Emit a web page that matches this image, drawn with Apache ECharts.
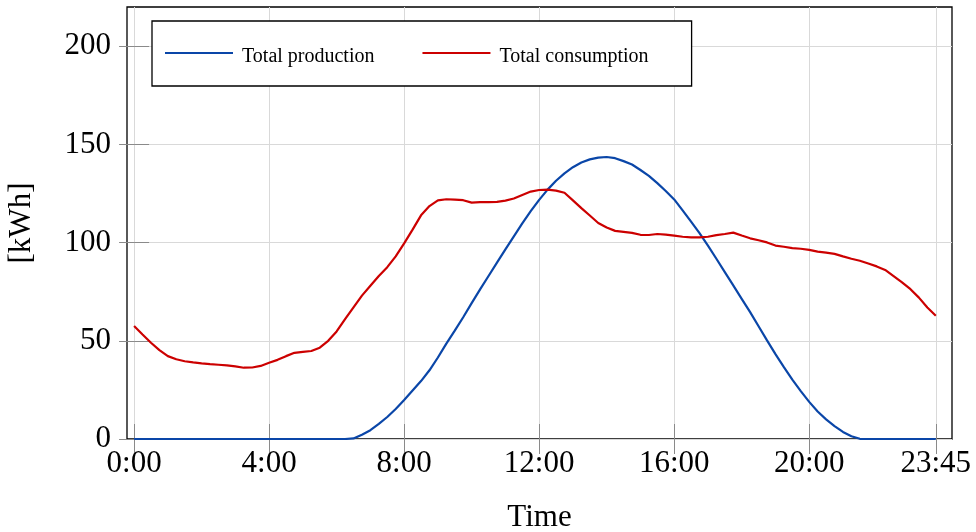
<!DOCTYPE html>
<html>
<head>
	<meta charset="utf-8" />
	<title>Production and consumption</title>
	<script src="https://cdn.jsdelivr.net/npm/echarts@6/dist/echarts.min.js"></script>
	<style>
		html, body { margin: 0; padding: 0; background: #fff; }
		#chart { width: 976px; height: 532px; }
	</style>
</head>
<body>
	<div id="chart"></div>
	<script type="text/javascript">
		var times = [
			'0:00', '0:15', '0:30', '0:45', '1:00', '1:15', '1:30', '1:45',
			'2:00', '2:15', '2:30', '2:45', '3:00', '3:15', '3:30', '3:45',
			'4:00', '4:15', '4:30', '4:45', '5:00', '5:15', '5:30', '5:45',
			'6:00', '6:15', '6:30', '6:45', '7:00', '7:15', '7:30', '7:45',
			'8:00', '8:15', '8:30', '8:45', '9:00', '9:15', '9:30', '9:45',
			'10:00', '10:15', '10:30', '10:45', '11:00', '11:15', '11:30', '11:45',
			'12:00', '12:15', '12:30', '12:45', '13:00', '13:15', '13:30', '13:45',
			'14:00', '14:15', '14:30', '14:45', '15:00', '15:15', '15:30', '15:45',
			'16:00', '16:15', '16:30', '16:45', '17:00', '17:15', '17:30', '17:45',
			'18:00', '18:15', '18:30', '18:45', '19:00', '19:15', '19:30', '19:45',
			'20:00', '20:15', '20:30', '20:45', '21:00', '21:15', '21:30', '21:45',
			'22:00', '22:15', '22:30', '22:45', '23:00', '23:15', '23:30', '23:45'
		];
		var production = [
			0, 0, 0, 0, 0, 0, 0, 0,
			0, 0, 0, 0, 0, 0, 0, 0,
			0, 0, 0, 0, 0, 0, 0, 0,
			0, 0, 0.3, 2.2, 4.5, 7.7, 11.2, 15.3,
			19.9, 24.7, 29.5, 35.0, 41.5, 48.6, 55.2, 62.0,
			69.2, 76.2, 83.0, 89.8, 96.6, 103.2, 109.8, 116.0,
			121.8, 127.0, 131.5, 135.3, 138.4, 140.8, 142.4, 143.3,
			143.6, 143.0, 141.5, 139.8, 137.0, 134.0, 130.3, 126.3,
			122.0, 116.4, 110.7, 104.8, 98.5, 91.8, 85.0, 78.2,
			71.4, 64.6, 57.4, 50.2, 43.2, 36.6, 30.2, 24.4,
			18.9, 14.0, 10.0, 6.6, 3.6, 1.4, 0.1, 0,
			0, 0, 0, 0, 0, 0, 0, 0
		];
		var consumption = [
			57.5, 53.2, 49.0, 45.3, 42.2, 40.6, 39.6, 39.0,
			38.5, 38.1, 37.8, 37.5, 37.0, 36.3, 36.4, 37.2,
			38.8, 40.3, 42.2, 43.9, 44.4, 44.8, 46.5, 50.0,
			54.8, 61.0, 67.0, 73.0, 78.0, 83.0, 87.5, 93.0,
			99.6, 106.6, 113.9, 118.6, 121.5, 122.1, 121.9, 121.6,
			120.4, 120.6, 120.6, 120.8, 121.4, 122.5, 124.3, 126.0,
			126.8, 127.0, 126.5, 125.4, 121.5, 117.6, 113.8, 110.0,
			107.7, 106.0, 105.5, 105.0, 104.0, 103.9, 104.4, 104.1,
			103.6, 103.0, 102.7, 102.7, 103.0, 103.8, 104.4, 105.1,
			103.6, 102.2, 101.2, 100.1, 98.5, 97.9, 97.2, 96.9,
			96.3, 95.4, 94.9, 94.3, 93.0, 91.8, 90.8, 89.4,
			87.9, 86.1, 83.0, 79.8, 76.3, 72.0, 67.0, 62.8
		];
		var xTicks = ['0:00', '4:00', '8:00', '12:00', '16:00', '20:00', '23:45'];
		var yTicks = [0, 50, 100, 150, 200];

		function toHours(t) {
			var p = t.split(':');
			return +p[0] + (+p[1]) / 60;
		}
		function toLabel(v) {
			var h = Math.floor(v + 1e-6);
			var m = Math.round((v - h) * 60);
			return h + ':' + (m < 10 ? '0' + m : m);
		}

		var xTickHours = xTicks.map(toHours);
		var fontFamily = '"Liberation Serif", "DejaVu Serif", serif';
		var tickStyle = { color: '#8a8a8a', width: 1 };

		var chart = echarts.init(document.getElementById('chart'), null, { renderer: 'canvas' });
		var option = {
			animation: false,
			backgroundColor: '#fff',
			textStyle: { fontFamily: fontFamily },
			grid: {
				left: 127,
				right: 24,
				top: 7,
				bottom: 93,
				outerBoundsMode: 'none',
				containLabel: false,
				show: true,
				borderColor: '#000',
				borderWidth: 1.3
			},
			legend: {
				left: 152,
				top: 21,
				padding: [18, 43, 19, 13],
				icon: 'rect',
				itemWidth: 68,
				itemHeight: 2.2,
				itemGap: 48,
				borderColor: '#000',
				borderWidth: 1.3,
				backgroundColor: '#fff',
				formatter: function (name) { return '{t|' + name + '}'; },
				textStyle: {
					color: '#000',
					fontFamily: fontFamily,
					rich: {
						t: { fontSize: 20, lineHeight: 22, color: '#000', fontFamily: fontFamily, padding: [8, 0, 0, 4] }
					}
				},
				data: ['Total production', 'Total consumption']
			},
			xAxis: [
				{
					type: 'value',
					min: -0.21,
					max: 24.23,
					name: 'Time',
					nameLocation: 'middle',
					nameGap: 63,
					nameTextStyle: { fontSize: 31, color: '#000', fontFamily: fontFamily },
					axisLine: { show: false },
					axisTick: { inside: true, length: 15, customValues: xTickHours, lineStyle: tickStyle },
					axisLabel: {
						customValues: xTickHours,
						formatter: toLabel,
						margin: 9,
						fontSize: 31,
						color: '#000',
						fontFamily: fontFamily
					},
					splitLine: { show: true, lineStyle: { color: '#d9d9d9', width: 1 } }
				},
				{
					type: 'value',
					position: 'top',
					min: -0.21,
					max: 24.23,
					axisLine: { show: false },
					axisTick: { inside: true, length: 15, customValues: xTickHours, lineStyle: tickStyle },
					axisLabel: { show: false },
					splitLine: { show: false }
				}
			],
			yAxis: [
				{
					type: 'value',
					min: 0,
					max: 220,
					name: '[kWh]',
					nameLocation: 'middle',
					nameGap: 90,
					nameTextStyle: { fontSize: 31, color: '#000', fontFamily: fontFamily },
					axisLine: { show: false },
					axisTick: { inside: true, length: 15, customValues: yTicks, lineStyle: tickStyle },
					axisLabel: {
						customValues: yTicks,
						margin: 16,
						fontSize: 31,
						color: '#000',
						fontFamily: fontFamily
					},
					splitLine: { show: true, lineStyle: { color: '#d9d9d9', width: 1 } }
				},
				{
					type: 'value',
					position: 'right',
					min: 0,
					max: 220,
					axisLine: { show: false },
					axisTick: { inside: true, length: 15, customValues: yTicks, lineStyle: tickStyle },
					axisLabel: { show: false },
					splitLine: { show: false }
				}
			],
			series: [
				{
					name: 'Total production',
					type: 'line',
					showSymbol: false,
					symbol: 'none',
					color: '#0a46a8',
					lineStyle: { width: 2.2, color: '#0a46a8' },
					data: times.map(function (t, i) { return [toHours(t), production[i]]; })
				},
				{
					name: 'Total consumption',
					type: 'line',
					showSymbol: false,
					symbol: 'none',
					color: '#cc0000',
					lineStyle: { width: 2.2, color: '#cc0000' },
					data: times.map(function (t, i) { return [toHours(t), consumption[i]]; })
				}
			]
		};
		chart.setOption(option);
	</script>
</body>
</html>
